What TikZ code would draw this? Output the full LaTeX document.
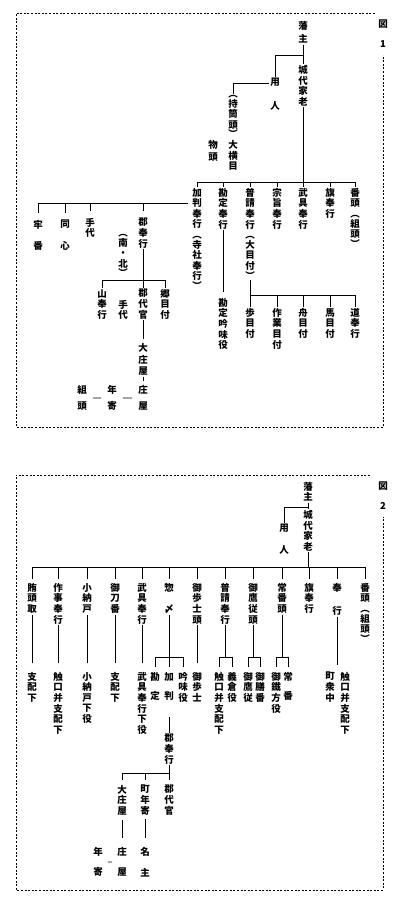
\documentclass[tikz,border=0pt]{standalone}
\usepackage{fontspec}
\usepackage{tikz}
\newfontfamily\jp{Noto Sans CJK JP}
\newcommand{\tatefont}{\jp\bfseries\fontsize{9.5}{10.6}\selectfont}

\begin{document}
\begin{tikzpicture}[x=1pt,y=-1pt,
	lbl/.style={font=\tatefont, align=center, inner sep=1pt, anchor=north},
	ln/.style={line width=0.7pt},
	frm/.style={line width=0.7pt, dash pattern=on 2pt off 1.6pt}]
	\useasboundingbox (0,0) rectangle (400,907);

	% figure 1
	\draw[frm] (375,13) -- (16,13) -- (16,427) -- (383,427) -- (383,55);
	\node[lbl] (zu1) at (383,19) {図\\[9pt]1};

	\node[lbl] (han1) at (303,20) {藩\\[3pt]主};
	\node[lbl] (karo1) at (303,64) {城\\代\\家\\老};
	\node[lbl] (yonin1) at (275,77) {用\\[13pt]人};
	\node[lbl] (mochi1) at (233,94) {︵\\[-1pt]持\\筒\\頭\\[-1pt]︶\\大\\横\\目};
	\node[lbl] (mono1) at (213,139) {物\\[2pt]頭};
	\draw[ln] (han1) -- (karo1);
	\coordinate (j1) at (303,55);
	\draw[ln] (j1) -| (yonin1.north);
	\draw[ln] ([yshift=-6pt]yonin1.north west) -| (mochi1.north);

	\coordinate (b1) at (303,182);
	\node[lbl] (kahan1) at (197,187) {加\\判\\奉\\行\\︵\\[-1pt]寺\\社\\奉\\行\\[-1pt]︶};
	\node[lbl] (kanjo1) at (223,187) {勘\\定\\奉\\行};
	\node[lbl] (fushin1) at (250,187) {普\\請\\奉\\行\\︵\\[-1pt]大\\目\\付\\[-1pt]︶};
	\node[lbl] (shushi1) at (277,187) {宗\\旨\\奉\\行};
	\node[lbl] (bugu1) at (303,187) {武\\具\\奉\\行};
	\node[lbl] (hata1) at (330,187) {旗\\奉\\行};
	\node[lbl] (ban1) at (355,187) {番\\頭\\︵\\[-1pt]組\\頭\\[-1pt]︶};
	\draw[ln] (karo1) -- (b1);
	\draw[ln] (kahan1.north |- b1) -- (ban1.north |- b1);
	\foreach \n in {kahan1,kanjo1,fushin1,shushi1,bugu1,hata1,ban1}
		\draw[ln] (\n.north |- b1) -- (\n.north);

	\node[lbl] (ginmi1) at (223,297) {勘\\定\\吟\\味\\役};
	\draw[ln, shorten >=5pt] (kanjo1) -- (ginmi1);

	\coordinate (b2) at (250,295);
	\node[lbl] (hoko1) at (250,307) {歩\\目\\付};
	\node[lbl] (sagyo1) at (277,307) {作\\業\\目\\付};
	\node[lbl] (fune1) at (303,307) {舟\\目\\付};
	\node[lbl] (uma1) at (330,307) {馬\\目\\付};
	\node[lbl] (michi1) at (355,307) {道\\奉\\行};
	\draw[ln] (fushin1) -- (hoko1);
	\draw[ln] (hoko1.north |- b2) -- (michi1.north |- b2);
	\foreach \n in {sagyo1,fune1,uma1,michi1}
		\draw[ln] (\n.north |- b2) -- (\n.north);

	\coordinate (b3) at (0,203);
	\node[lbl] (rou1) at (38,219) {牢\\[11pt]番};
	\node[lbl] (dou1) at (65,219) {同\\[11pt]心};
	\node[lbl] (tedai1) at (90,217) {手\\代};
	\node[lbl] (gun1) at (143,217) {郡\\奉\\行};
	\node[lbl] (nanboku1) at (123,233) {︵\\[-1pt]南\\・\\北\\[-1pt]︶};
	\draw[ln, shorten <=3pt] (kahan1.west |- b3) -- (rou1.north |- b3);
	\foreach \n in {rou1,dou1,tedai1,gun1}
		\draw[ln, shorten >=6pt] (\n.north |- b3) -- (\n.north);

	\coordinate (b4) at (0,280);
	\node[lbl] (yama1) at (102,288) {山\\奉\\行};
	\node[lbl] (tedai1b) at (123,299) {手\\代};
	\node[lbl] (gundai1) at (143,288) {郡\\代\\官};
	\node[lbl] (gou1) at (165,288) {郷\\目\\付};
	\draw[ln] (gun1) -- (gundai1);
	\draw[ln] (yama1.north |- b4) -- (gou1.north |- b4);
	\foreach \n in {yama1,gou1}
		\draw[ln] (\n.north |- b4) -- (\n.north);

	\node[lbl] (oosho1) at (143,342) {大\\[2pt]庄\\屋};
	\node[lbl] (shoya1) at (143,384) {庄\\[6pt]屋};
	\node[lbl] (toshi1) at (112,384) {年\\[6pt]寄};
	\node[lbl] (kumi1) at (82,384) {組\\[6pt]頭};
	\draw[ln, shorten >=3pt] (gundai1) -- (oosho1);
	\draw[ln, shorten >=3pt] (oosho1) -- (shoya1);
	\draw[ln, shorten <=5pt, shorten >=5pt] (kumi1.east) -- (toshi1.west);
	\draw[ln, shorten <=5pt, shorten >=5pt] (toshi1.east) -- (shoya1.west);

	% figure 2
	\draw[frm] (370,475) -- (16,475) -- (16,890) -- (383,890) -- (383,517);
	\node[lbl] (zu2) at (383,481) {図\\[9pt]2};

	\node[lbl] (han2) at (308,481) {藩\\主};
	\node[lbl] (karo2) at (308,509) {城\\代\\家\\老};
	\node[lbl] (yonin2) at (284,523) {用\\[11pt]人};
	\draw[ln] (han2) -- (karo2);
	\coordinate (j2) at (308,507);
	\draw[ln] (j2) -| (yonin2.north);

	\coordinate (b5) at (308,567);
	\node[lbl] (makanai2) at (32,582) {賄\\頭\\取};
	\node[lbl] (sakuji2) at (58,582) {作\\事\\奉\\行};
	\node[lbl] (konando2) at (87,582) {小\\納\\戸};
	\node[lbl] (katana2) at (115,582) {御\\刀\\番};
	\node[lbl] (bugu2) at (142,582) {武\\具\\奉\\行};
	\node[lbl] (soujime2) at (169,582) {惣\\[11pt]〆};
	\node[lbl] (hoshi2) at (197,582) {御\\歩\\士\\頭};
	\node[lbl] (fushin2) at (225,582) {普\\請\\奉\\行};
	\node[lbl] (taka2) at (253,582) {御\\鷹\\従\\頭};
	\node[lbl] (joban2) at (282,582) {常\\番\\頭};
	\node[lbl] (hata2) at (309,582) {旗\\奉\\行};
	\node[lbl] (bugyo2) at (337,582) {奉\\[13pt]行};
	\node[lbl] (ban2) at (365,582) {番\\頭\\︵\\[-1pt]組\\頭\\[-1pt]︶};
	\draw[ln] (karo2) -- (b5);
	\draw[ln] (makanai2.north |- b5) -- (ban2.north |- b5);
	\foreach \n in {makanai2,sakuji2,konando2,katana2,bugu2,soujime2,hoshi2,fushin2,taka2,joban2,hata2,bugyo2,ban2}
		\draw[ln, shorten >=3pt] (\n.north |- b5) -- (\n.north);

	\node[lbl] (shihai2a) at (32,671) {支\\配\\下};
	\node[lbl] (fure2a) at (58,671) {触\\口\\并\\支\\配\\下};
	\node[lbl] (konandoge2) at (87,671) {小\\納\\戸\\下\\役};
	\node[lbl] (shihai2b) at (115,671) {支\\配\\下};
	\node[lbl] (bugushita2) at (142,671) {武\\具\\奉\\行\\下\\役};
	\node[lbl] (kanjo2) at (155,671) {勘\\[9pt]定};
	\node[lbl] (kahan2) at (169,671) {加\\[9pt]判};
	\node[lbl] (ginmi2) at (183,671) {吟\\味\\役};
	\node[lbl] (hoshi2b) at (197,671) {御\\歩\\士};
	\node[lbl] (fure2b) at (219,671) {触\\口\\并\\支\\配\\下};
	\node[lbl] (gisou2) at (232,671) {義\\倉\\役};
	\node[lbl] (takajuu2) at (248,671) {御\\鷹\\従};
	\node[lbl] (zenban2) at (260,671) {御\\膳\\番};
	\node[lbl] (tetsu2) at (276,671) {御\\鐵\\方\\役};
	\node[lbl] (jouban2) at (288,671) {常\\[9pt]番};
	\node[lbl] (machishu2) at (330,671) {町\\衆\\中};
	\node[lbl] (fure2c) at (345,671) {触\\口\\并\\支\\配\\下};
	\foreach \a/\b in {makanai2/shihai2a,sakuji2/fure2a,konando2/konandoge2,katana2/shihai2b,bugu2/bugushita2,hoshi2/hoshi2b}
		\draw[ln, shorten >=8pt] (\a) -- (\b);

	\coordinate (b6) at (0,657);
	\foreach \a/\b/\c in {soujime2/kanjo2/ginmi2,fushin2/fure2b/gisou2,taka2/takajuu2/zenban2,joban2/tetsu2/jouban2} {
		\draw[ln] (\a.south) -- (\a.south |- b6);
		\draw[ln] (\b.north |- b6) -- (\c.north |- b6);
	}
	\foreach \n in {kanjo2,kahan2,ginmi2,fure2b,gisou2,takajuu2,zenban2,tetsu2,jouban2}
		\draw[ln, shorten >=4pt] (\n.north |- b6) -- (\n.north);
	\coordinate (bugyoend) at (337,665);
	\draw[ln] (bugyo2) -- (bugyoend);

	\node[lbl] (gun2) at (169,733) {郡\\奉\\行};
	\draw[ln, shorten <=15pt] (kahan2) -- (gun2);

	\coordinate (b7) at (0,773);
	\node[lbl] (oosho2) at (122,784) {大\\庄\\屋};
	\node[lbl] (machitoshi2) at (145,784) {町\\年\\寄};
	\node[lbl] (gundai2) at (169,784) {郡\\代\\官};
	\draw[ln] (gun2) -- (gun2.south |- b7);
	\draw[ln] (oosho2.north |- b7) -- (gundai2.north |- b7);
	\foreach \n in {oosho2,machitoshi2,gundai2}
		\draw[ln, shorten >=4pt] (\n.north |- b7) -- (\n.north);

	\node[lbl] (shoya2) at (122,846) {庄\\[10pt]屋};
	\node[lbl] (nanushi2) at (145,846) {名\\[10pt]主};
	\node[lbl] (toshi2) at (98,846) {年\\[10pt]寄};
	\draw[ln, shorten <=3pt, shorten >=8pt] (oosho2) -- (shoya2);
	\draw[ln, shorten <=3pt, shorten >=8pt] (machitoshi2) -- (nanushi2);
	\draw[ln, shorten <=4pt, shorten >=4pt] (toshi2.east) -- (shoya2.west);
\end{tikzpicture}
\end{document}
